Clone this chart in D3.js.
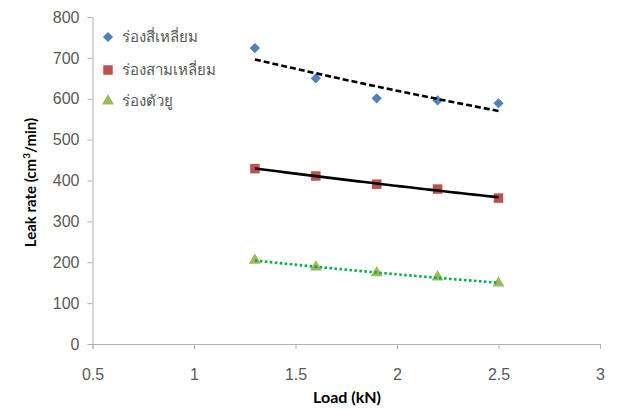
<!DOCTYPE html>
<html>
<head>
<meta charset="utf-8">
<script src="https://cdn.jsdelivr.net/npm/d3@7"></script>
<style>
  html, body { margin: 0; padding: 0; background: #fff; }
  svg { display: block; font-family: Lato, "Open Sans", "Noto Sans", sans-serif; }
</style>
</head>
<body>
<svg id="chart" width="618" height="410"></svg>
<script>
// Load applied to each groove specimen (kN)
const loads = [1.3, 1.6, 1.9, 2.2, 2.5];

// Measured leak rate (cm³/min) for each groove shape
const squareGroove = [724, 650, 601, 596, 589];
const triangleGroove = [429, 411, 391, 379, 357];
const uGroove = [205, 188, 174, 164, 149];

const seriesNames = ["ร่องสี่เหลี่ยม", "ร่องสามเหลี่ยม", "ร่องตัวยู"];

const xTicks = [0.5, 1, 1.5, 2, 2.5, 3];
const yTicks = [0, 100, 200, 300, 400, 500, 600, 700, 800];

const svg = d3.select("#chart");

const x = d3.scaleLinear().domain([0.5, 3]).range([92.5, 600]);
const y = d3.scaleLinear().domain([0, 800]).range([344, 17]);

const axisColor = "#b3b3b3";
const tickTextColor = "#595959";

// Y axis
const yAxis = svg.append("g")
  .attr("transform", `translate(${x(0.5)},0)`)
  .call(d3.axisLeft(y).tickValues(yTicks).tickSize(5).tickPadding(8).tickFormat(d3.format("d")));
// X axis
const xAxis = svg.append("g")
  .attr("transform", `translate(0,${y(0)})`)
  .call(d3.axisBottom(x).tickValues(xTicks).tickSize(5).tickPadding(20).tickFormat(d => d));

[yAxis, xAxis].forEach(g => {
  g.select(".domain").attr("stroke", axisColor);
  g.selectAll(".tick line").attr("stroke", axisColor);
  g.selectAll(".tick text").attr("fill", tickTextColor).style("font-size", "16px");
});

// Axis titles
svg.append("text")
  .attr("x", 347).attr("y", 403)
  .attr("text-anchor", "middle")
  .style("font-size", "16px").style("font-weight", "bold").attr("fill", "#000")
  .text("Load (kN)");

const yTitle = svg.append("text")
  .attr("transform", `translate(36,${y(400) + 2}) rotate(-90)`)
  .attr("text-anchor", "middle")
  .style("font-size", "15px").style("font-weight", "bold").attr("fill", "#000");
yTitle.append("tspan").text("Leak rate (cm");
yTitle.append("tspan").attr("dy", -6).style("font-size", "10px").text("3");
yTitle.append("tspan").attr("dy", 6).text("/min)");

// Exponential trend line y = a·e^(b·x), least squares on ln(y)
function expFit(xs, ys) {
  const ly = ys.map(Math.log);
  const mx = d3.mean(xs), my = d3.mean(ly);
  const b = d3.sum(xs, (v, i) => (v - mx) * (ly[i] - my)) / d3.sum(xs, v => (v - mx) ** 2);
  const a = Math.exp(my - b * mx);
  return v => a * Math.exp(b * v);
}

const series = [
  { name: seriesNames[0], values: squareGroove, color: "#4f81bd", symbol: d3.symbolSquare, size: 52, rotate: 45,
    trend: { stroke: "#000", width: 2.6, dash: "6,3" } },
  { name: seriesNames[1], values: triangleGroove, color: "#c0504d", symbol: d3.symbolSquare, size: 90, rotate: 0,
    trend: { stroke: "#000", width: 2.6, dash: null } },
  { name: seriesNames[2], values: uGroove, color: "#9bbb59", symbol: d3.symbolTriangle, size: 62, rotate: 0,
    trend: { stroke: "#00b050", width: 2.6, dash: "2.5,2.5" } }
];

const line = d3.line().x(d => x(d[0])).y(d => y(d[1]));

series.forEach(s => {
  const f = expFit(loads, s.values);
  const pts = d3.range(0, 41).map(i => {
    const v = loads[0] + (loads[loads.length - 1] - loads[0]) * i / 40;
    return [v, f(v)];
  });
  // markers
  svg.append("g").selectAll("path")
    .data(loads.map((l, i) => [l, s.values[i]]))
    .join("path")
    .attr("d", d3.symbol().type(s.symbol).size(s.size))
    .attr("transform", d => `translate(${x(d[0])},${y(d[1])}) rotate(${s.rotate})`)
    .attr("fill", s.color);
  // trend
  svg.append("path")
    .datum(pts)
    .attr("d", line)
    .attr("fill", "none")
    .attr("stroke", s.trend.stroke)
    .attr("stroke-width", s.trend.width)
    .attr("stroke-dasharray", s.trend.dash);
});

// Legend
const legend = svg.append("g");
const legendRows = [37, 70, 101];
series.forEach((s, i) => {
  legend.append("path")
    .attr("d", d3.symbol().type(s.symbol).size(s.size))
    .attr("transform", `translate(108,${legendRows[i]}) rotate(${s.rotate})`)
    .attr("fill", s.color);
  legend.append("text")
    .attr("x", 122).attr("y", legendRows[i] + 5)
    .style("font-size", "15px").attr("fill", tickTextColor)
    .text(s.name);
});
</script>
</body>
</html>
